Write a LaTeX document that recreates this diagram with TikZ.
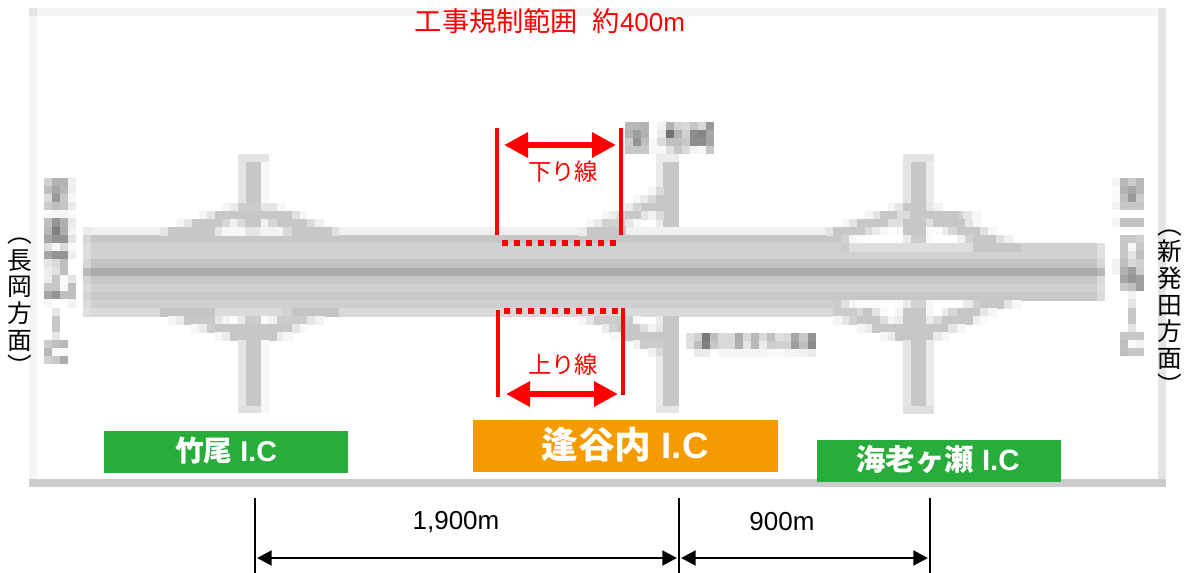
\documentclass[tikz,border=0pt]{standalone}
\usepackage{fontspec}
\usepackage{graphicx}
\usetikzlibrary{arrows.meta}
\setmainfont{Liberation Sans}
\newfontfamily\cjk{Noto Sans CJK JP}
\definecolor{icgreen}{HTML}{28AD3C}
\definecolor{icorange}{HTML}{F59B00}
\definecolor{framelight}{HTML}{F4F6F5}
\definecolor{frameright}{HTML}{E4E4E4}
\definecolor{framebottom}{HTML}{CCCCCC}
\newcommand{\fs}[1]{\fontsize{#1}{#1}\selectfont}
\newcommand{\sidefont}{\cjk\fontsize{18.5}{20}\selectfont\lineskiplimit=-100pt\relax}
% one row of spans x1/x2/darkness, 8 units high
\newcommand{\rowspans}[2]{\foreach \xa/\xb/\g in {#2}{\fill[black!\g,draw=black!\g,line width=0.12pt] (\xa,#1) rectangle (\xb,#1+8.1);}}
% one row of equal pixels: start x, y, list macro of darkness values
\newcommand{\pixrow}[3]{\foreach \g [count=\i from 0] in #3 {\fill[black!\g] ({#1+8.1*\i},{#2}) rectangle ({#1+8.1*\i+8.1},{#2+8.1});}}
\tikzset{
  every node/.style={inner sep=0pt,outer sep=0pt},
  iclabel/.style={text=white},
  redtext/.style={text=red},
  redbar/.style={draw=red,line width=3pt},
  reddots/.style={draw=red,line width=4.5pt,dash pattern=on 4.5pt off 4.5pt},
  redspan/.style={draw=red,line width=5pt,{Triangle[length=18pt,width=18pt]}-{Triangle[length=18pt,width=18pt]}},
  dimbar/.style={draw=black,line width=1.1pt},
  dimspan/.style={draw=black,line width=2.2pt,{Triangle[length=11pt,width=11pt]}-{Triangle[length=11pt,width=11pt]}},
  dimtext/.style={text=black,font=\fs{19.5}},
  sidetext/.style={text=black,align=center,font=\sidefont}
}
\begin{document}
\begin{tikzpicture}[x=0.75pt,y=-0.75pt]
\useasboundingbox (0,0) rectangle (1186,573);
\fill[white] (0,0) rectangle (1186,573);
% frame
\fill[framelight] (29,8) rectangle (1166,16);
\fill[framelight] (29,8) rectangle (37,487);
\fill[frameright] (1158,8) rectangle (1166,487);
\fill[frameright] (29,8) rectangle (37,16);
\fill[framebottom] (29,479) rectangle (1166,487);
% road bands
\rowspans{227}{83/91/8,91/826/6}
\rowspans{235}{83/91/16,91/841/22}
\rowspans{243}{83/91/13,91/1097/18,1097/1104/12}
\rowspans{251}{83/91/13,91/1097/18,1097/1104/12}
\rowspans{259}{83/91/16,91/1097/23,1097/1104/16}
\rowspans{268}{83/91/28,91/1097/33,1097/1104/28}
\rowspans{276}{83/91/16,91/1097/22,1097/1104/14}
\rowspans{284}{83/91/14,91/1097/19,1097/1104/12}
\rowspans{292}{83/91/16,91/1097/22,1097/1104/14}
\rowspans{300}{83/91/14,91/841/19}
\rowspans{308}{83/91/12,91/833/15}
% left interchange, upper
\fill[black!10] (238,154) rectangle (269,162);
\fill[black!10] (238,162) rectangle (246,204);
\fill[black!22] (246,162) rectangle (261,204);
\fill[black!3] (261,162) rectangle (269,204);
\rowspans{203}{222/230/4,230/238/8,238/261/20,261/277/10,277/285/3}
\rowspans{211}{199/207/4,207/215/10,215/292/22,292/300/12,300/306/4}
\rowspans{219}{177/184/4,184/192/10,192/222/22,222/230/16,230/237/6,237/245/14,245/261/22,261/268/6,268/277/16,277/307/22,307/315/14,315/323/6}
\rowspans{227}{160/168/10,168/215/22,215/222/10,222/245/3,245/260/10,260/283/5,283/292/15,292/332/22,332/338/12}
\rowspans{308}{160/215/23,215/283/14,283/292/18,292/338/23}
\rowspans{316}{168/176/3,176/184/8,184/215/22,215/222/10,222/230/5,230/237/1,237/245/8,245/261/20,261/268/1,268/277/6,277/307/20,307/315/10,315/323/5}
\rowspans{324}{191/199/3,199/207/8,207/215/20,215/292/22,292/300/10,300/307/3}
\rowspans{332}{215/222/3,222/230/8,230/277/22,277/283/8,283/292/3}
\fill[black!10] (238,340) rectangle (246,406);
\fill[black!22] (246,340) rectangle (261,406);
\fill[black!3] (261,340) rectangle (269,406);
\fill[black!12] (238,406) rectangle (261,413);
\fill[black!3] (261,406) rectangle (269,413);
% centre interchange, upper
\fill[black!8] (656,154) rectangle (679,162);
\fill[black!8] (656,162) rectangle (663,227);
\fill[black!22] (663,162) rectangle (679,227);
\rowspans{187}{648/656/3,656/663/14}
\rowspans{195}{633/640/3,640/648/8,648/656/15,656/663/22}
\rowspans{203}{625/633/8,633/641/16,641/663/22}
\rowspans{211}{602/609/3,609/617/8,617/625/14,625/641/22,641/648/10,648/656/5,656/663/14}
\rowspans{219}{586/594/3,594/602/8,602/625/18,625/633/10,633/640/3}
\rowspans{227}{578/587/8,587/625/22}
% centre interchange, lower
\rowspans{316}{578/586/4,586/594/10,594/633/20,633/640/3,656/663/8}
\rowspans{324}{602/609/8,609/617/18,617/640/22,640/648/12,648/656/5,656/663/10}
\rowspans{332}{610/625/3,625/663/22}
\rowspans{340}{633/640/6,640/663/20}
\rowspans{348}{648/656/6,656/663/14}
\fill[black!22] (663,316) rectangle (679,406);
\fill[black!8] (656,356) rectangle (663,406);
\fill[black!10] (656,406) rectangle (679,413);
% right interchange, upper
\fill[black!10] (903,154) rectangle (934,162);
\fill[black!10] (903,162) rectangle (911,203);
\fill[black!22] (911,162) rectangle (926,203);
\fill[black!8] (926,162) rectangle (934,203);
\rowspans{203}{888/895/4,895/903/10,903/926/22,926/933/10,933/942/5}
\rowspans{211}{865/873/4,873/880/10,880/897/22,897/910/14,910/958/22,958/963/18,963/972/10,972/980/3}
\rowspans{219}{842/849/4,849/857/10,857/888/22,888/903/12,903/926/22,926/933/12,933/965/22,965/973/10,973/980/3}
\rowspans{227}{826/833/10,833/865/22,865/872/14,872/880/8,880/888/3,888/895/1,895/903/2,903/926/22,926/933/2,933/942/1,942/948/8,948/957/16,957/980/22,980/988/12,988/996/4}
\rowspans{235}{841/849/18,849/857/4,857/865/1,865/903/0,903/911/8,911/926/20,926/933/2,933/957/0,957/965/6,965/973/18,973/996/22,996/1004/12,1004/1012/6}
\rowspans{243}{841/849/20,849/973/13,973/1012/22,1012/1020/22}
\rowspans{300}{833/841/20,841/849/12,849/857/4,857/903/1,903/911/8,911/926/18,926/933/3,933/963/0,963/973/8,973/980/18,980/1004/22,1004/1012/10,1012/1020/3}
\rowspans{308}{833/857/20,857/863/15,863/872/22,872/880/10,880/888/2,888/895/0,895/903/4,903/926/22,926/933/3,933/942/0,942/948/8,948/957/16,957/980/22,980/988/10,988/996/4}
\rowspans{316}{833/842/4,842/849/10,849/857/18,857/880/22,880/888/12,888/895/4,895/903/8,903/926/22,926/933/8,933/942/14,942/973/22,973/980/6,980/987/2}
\rowspans{324}{857/865/4,865/872/8,872/948/22,948/957/10,957/965/4}
\rowspans{332}{880/888/4,888/895/8,895/933/22,933/942/8,942/948/3}
\fill[black!10] (903,340) rectangle (911,406);
\fill[black!22] (911,340) rectangle (926,406);
\fill[black!8] (926,340) rectangle (934,406);
\fill[black!12] (903,406) rectangle (934,414);
% blurred labels
\foreach \r [count=\k from 0] in {
 {18,30,30,6},{25,35,28,6},{14,40,22,3},{20,25,22,8},{2,4,4,2},{25,42,30,8},{28,50,32,5},{35,42,42,10},
 {12,4,14,2},{35,42,42,6},{10,14,25,0},{7,12,25,0},{8,22,2,10},{22,22,2,25},{35,42,25,25},{4,0,0,5},
 {0,10,0,0},{0,22,0,0},{0,22,0,0},{0,10,0,0},{20,25,28,0},{28,2,2,0},{18,22,32,0}}
 {\pixrow{44}{178+8.1*\k}{\r}}
\foreach \r [count=\k from 0] in {
 {4,28,20,28},{2,30,35,28},{2,25,40,20},{5,22,22,22},{0,0,0,0},{4,24,24,24},{0,0,0,0},{0,22,22,18},
 {0,22,3,22},{0,22,10,25},{5,25,15,18},{5,30,38,20},{0,35,42,38},{0,22,25,38},{0,0,5,0},{0,0,10,0},
 {0,0,22,0},{0,0,22,0},{0,0,10,0},{0,22,22,22},{0,25,2,5},{0,25,22,22}}
 {\pixrow{1112}{178+8.1*\k}{\r}}
\foreach \r [count=\k from 0] in {
 {28,28,30,0,5,30,18,15,22,15,40},{30,38,30,0,8,55,30,18,45,48,35},
 {20,42,25,3,14,25,25,22,45,45,35},{22,22,22,3,3,12,22,14,5,3,22}}
 {\pixrow{625}{122+8.1*\k}{\r}}
\foreach \r [count=\k from 0] in {
 {12,18,52,25,15,15,32,15,28,15,25,12,15,35,22,42},{12,25,50,22,15,15,30,10,28,8,20,18,18,38,25,45},
 {0,8,8,0,4,4,4,4,4,4,2,2,4,4,6,8}}
 {\pixrow{686}{333+8.1*\k}{\r}}
% interchange name boxes
\fill[icgreen] (104,431) rectangle (348,473);
\fill[icorange] (473,420) rectangle (778,472);
\fill[icgreen] (817,440) rectangle (1061,482);
\node[iclabel,font=\bfseries\fs{21.5}] (take) at (226,451) {{\cjk\bfseries 竹尾} I.C};
\node[iclabel,font=\bfseries\fs{27.5}] (ouya) at (625,445) {{\cjk\bfseries 逢谷内} I.C};
\node[iclabel,font=\bfseries\fs{22}] (ebi) at (938,460) {{\cjk\bfseries 海老ヶ瀬} I.C};
% title
\node[redtext,font=\fs{19.5}] (title) at (550,21) {{\cjk\fs{20.4}工事規制範囲}\hspace{11pt}{\cjk\fs{20.4}約}400m};
% side labels
\node[sidetext] (nagaoka) at (20,307) {︵\\長\\岡\\方\\面\\︶};
\node[sidetext] (shibata) at (1170,312) {︵\\新\\発\\田\\方\\面\\︶};
% restriction markers, outbound
\coordinate (dl1t) at (497,128); \coordinate (dl1b) at (497,235);
\coordinate (dl2t) at (621,128); \coordinate (dl2b) at (621,235);
\coordinate (dd1) at (502,243); \coordinate (dd2) at (616,243);
\coordinate (da1) at (504,145); \coordinate (da2) at (616,145);
\draw[redbar] (dl1t) -- (dl1b);
\draw[redbar] (dl2t) -- (dl2b);
\draw[reddots] (dd1) -- (dd2);
\draw[redspan] (da1) -- (da2);
\node[redtext,font=\cjk\fs{17.5}] (down) at (563,172) {下り線};
% restriction markers, inbound
\coordinate (ul1t) at (498,310); \coordinate (ul1b) at (498,397);
\coordinate (ul2t) at (623,308); \coordinate (ul2b) at (623,395);
\coordinate (ud1) at (504,311); \coordinate (ud2) at (618,311);
\coordinate (ua1) at (506,394); \coordinate (ua2) at (618,394);
\draw[redbar] (ul1t) -- (ul1b);
\draw[redbar] (ul2t) -- (ul2b);
\draw[reddots] (ud1) -- (ud2);
\draw[redspan] (ua1) -- (ua2);
\node[redtext,font=\cjk\fs{17.5}] (up) at (563,365) {上り線};
% distances
\coordinate (m1t) at (255,498); \coordinate (m1b) at (255,573);
\coordinate (m2t) at (679,498); \coordinate (m2b) at (679,573);
\coordinate (m3t) at (930,498); \coordinate (m3b) at (930,573);
\coordinate (s1a) at (257,558); \coordinate (s1b) at (677,558);
\coordinate (s2a) at (681,558); \coordinate (s2b) at (928,558);
\draw[dimbar] (m1t) -- (m1b);
\draw[dimbar] (m2t) -- (m2b);
\draw[dimbar] (m3t) -- (m3b);
\draw[dimspan] (s1a) -- (s1b);
\draw[dimspan] (s2a) -- (s2b);
\node[dimtext] (d1900) at (456,522) {1,900m};
\node[dimtext] (d900) at (782,522) {900m};
\end{tikzpicture}
\end{document}
